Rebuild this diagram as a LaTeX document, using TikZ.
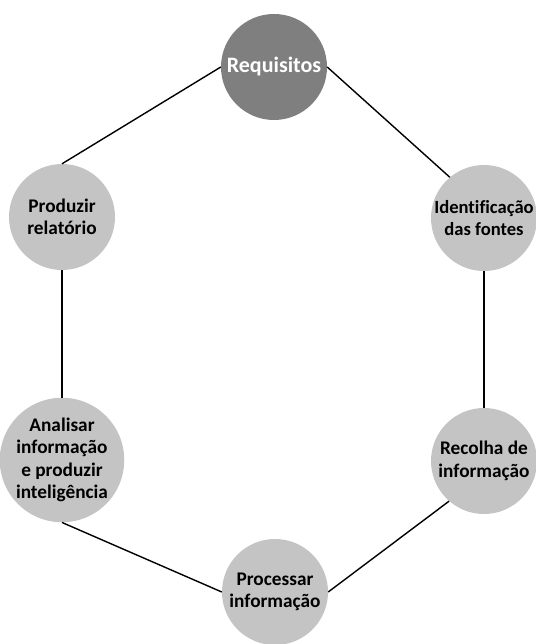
\documentclass[tikz,border=0pt]{standalone}
\usepackage{fontspec}
\setmainfont{Carlito}[Ligatures=NoCommon]
\begin{document}
\begin{tikzpicture}[x=1pt,y=-1pt,
  stage/.style={circle, minimum size=106pt, inner sep=0pt, fill=lightstage, text=black,
    align=center, font=\bfseries\fontsize{19.3}{22.5}\selectfont},
  mainstage/.style={stage, fill=darkstage, text=white, font=\bfseries\fontsize{22}{24}\selectfont},
  link/.style={draw=black, line width=1.4pt}]
\definecolor{lightstage}{HTML}{C4C4C4}
\definecolor{darkstage}{HTML}{7F7F7F}
\useasboundingbox (0,0) rectangle (535,644);
\node[mainstage] (req) at (274,67) {Requisitos};
\node[stage, font=\bfseries\fontsize{18.6}{22.5}\selectfont] (ident) at (484,218) {Identificação\\das fontes};
\node[stage] (recolha) at (484,461) {Recolha de\\informação};
\node[stage] (proc) at (275,592) {Processar\\informação};
\node[stage] (anal) at (62,460) {Analisar\\informação\\e produzir\\inteligência};
\node[stage] (prod) at (62,217) {Produzir\\relatório};
\draw[link] (req.east) -- (ident.130);
\draw[link] (ident.south) -- (recolha.north);
\draw[link] (recolha.229) -- (proc.east);
\draw[link] (proc.west) -- (anal.south);
\draw[link] (anal.north) -- (prod.south);
\draw[link] (prod.north) -- (req.west);
\end{tikzpicture}
\end{document}
